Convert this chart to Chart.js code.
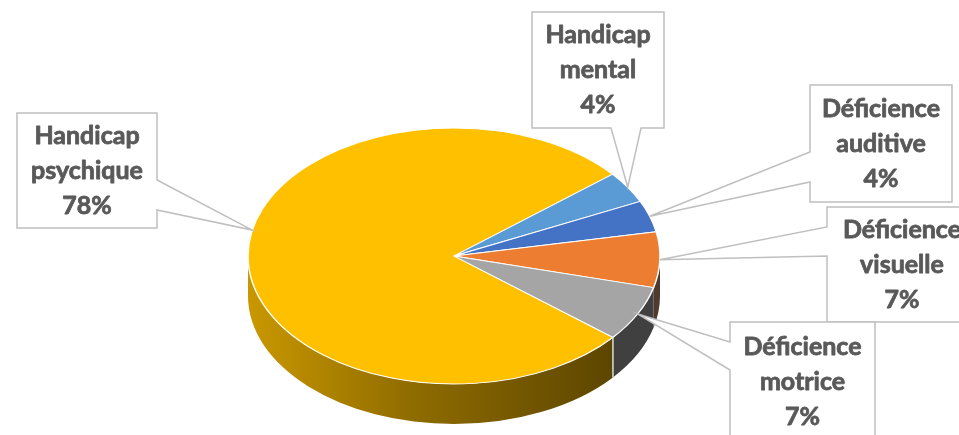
<!DOCTYPE html>
<html><head><meta charset="utf-8">
<script src="https://cdn.jsdelivr.net/npm/chart.js@4.4.1/dist/chart.umd.min.js"></script>
<style>html,body{margin:0;padding:0;background:#fff;}#wrap{position:relative;width:959px;height:435px;overflow:hidden;}</style>
</head><body><div id="wrap"><canvas id="c"></canvas></div>
<script>
// ---- data ----
const categories = ['Handicap psychique','Handicap mental','Déficience auditive','Déficience visuelle','Déficience motrice'];
const labelLines = [['Handicap','psychique'],['Handicap','mental'],['Déficience','auditive'],['Déficience','visuelle'],['Déficience','motrice']];
const values = [78, 4, 4, 7, 7];
const colors = ['#FFC000','#5B9BD5','#4472C4','#ED7D31','#A5A5A5'];
const sideColors = [null,'#2F5F8F','#2A4A85','#4F3A2C','#404040'];

// ---- layout ----
const PIE = {cx:454, cy:256, rx:206, ry:128, depth:40};
const BOXES = [
  {x:17, y:113, w:140, h:115, edge:'right', a:180, b:210, tipShift:11.8},
  {x:532, y:12, w:132, h:116, edge:'bottom', a:611, b:641, tipShift:0},
  {x:810, y:85, w:142, h:117, edge:'left', a:152, b:182, tipShift:0},
  {x:827, y:207, w:150, h:115, edge:'left', a:227, b:256, tipShift:0},
  {x:730, y:322, w:145, h:120, edge:'left', a:342, b:370, tipShift:0}
];
const FONT = 'bold 25px Lato, "Open Sans", sans-serif';
const LINE_H = 35;

function proj(t, dz){
  return [PIE.cx + PIE.rx*Math.cos(t), PIE.cy + PIE.ry*Math.sin(t) + (dz||0)];
}

const pie3d = {
  id:'pie3d',
  beforeDatasetsDraw(chart){
    const ctx = chart.ctx;
    const meta = chart.getDatasetMeta(0);
    const el0 = meta.data[0];
    const R0 = el0.outerRadius, x0 = el0.x, y0 = el0.y;
    const grad = ctx.createLinearGradient(PIE.cx-PIE.rx,0,PIE.cx+PIE.rx*0.78,0);
    grad.addColorStop(0,'#C99700');
    grad.addColorStop(0.45,'#8F6C00');
    grad.addColorStop(1,'#5C4500');
    const edges = [];
    meta.data.forEach((el,i)=>{
      const s = el.startAngle, e = el.endAngle;
      for(let k=-1;k<=2;k++){
        const lo = Math.max(s, 2*Math.PI*k), hi = Math.min(e, 2*Math.PI*k + Math.PI);
        if(hi>lo){
          const a = lo - 2*Math.PI*k, b = hi - 2*Math.PI*k;
          ctx.save();
          ctx.beginPath();
          ctx.ellipse(PIE.cx,PIE.cy,PIE.rx,PIE.ry,0,a,b,false);
          ctx.ellipse(PIE.cx,PIE.cy+PIE.depth,PIE.rx,PIE.ry,0,b,a,true);
          ctx.closePath();
          ctx.fillStyle = i===0 ? grad : sideColors[i];
          ctx.fill();
          ctx.restore();
          if(a>0.3 && a<Math.PI-0.001) edges.push(a);
        }
      }
    });
    ctx.save();
    ctx.strokeStyle='rgba(235,235,235,0.9)';
    ctx.lineWidth=1.5;
    edges.forEach(t=>{
      const p=proj(t,0), q=proj(t,PIE.depth);
      ctx.beginPath();ctx.moveTo(p[0],p[1]);ctx.lineTo(q[0],q[1]);ctx.stroke();
    });
    ctx.restore();
    ctx.save();
    ctx.translate(PIE.cx, PIE.cy);
    ctx.scale(PIE.rx/R0, PIE.ry/R0);
    ctx.translate(-x0, -y0);
  },
  afterDatasetsDraw(chart){
    chart.ctx.restore();
  },
  afterDraw(chart){
    const ctx = chart.ctx;
    const meta = chart.getDatasetMeta(0);
    const total = values.reduce((a,b)=>a+b,0);
    meta.data.forEach((el,i)=>{
      const B = BOXES[i];
      const mid = (el.startAngle+el.endAngle)/2 + B.tipShift*Math.PI/180;
      const tip = proj(mid, 0);
      const L=B.x, T=B.y, Rr=B.x+B.w, Bt=B.y+B.h;
      ctx.save();
      ctx.beginPath();
      if(B.edge==='left'){
        ctx.moveTo(L,T);ctx.lineTo(Rr,T);ctx.lineTo(Rr,Bt);ctx.lineTo(L,Bt);
        ctx.lineTo(L,B.b);ctx.lineTo(tip[0],tip[1]);ctx.lineTo(L,B.a);
      } else if(B.edge==='right'){
        ctx.moveTo(L,T);ctx.lineTo(Rr,T);ctx.lineTo(Rr,B.a);ctx.lineTo(tip[0],tip[1]);
        ctx.lineTo(Rr,B.b);ctx.lineTo(Rr,Bt);ctx.lineTo(L,Bt);
      } else {
        ctx.moveTo(L,T);ctx.lineTo(Rr,T);ctx.lineTo(Rr,Bt);ctx.lineTo(B.b,Bt);
        ctx.lineTo(tip[0],tip[1]);ctx.lineTo(B.a,Bt);ctx.lineTo(L,Bt);
      }
      ctx.closePath();
      ctx.fillStyle='#FFFFFF';
      ctx.fill();
      ctx.strokeStyle='#BFBFBF';
      ctx.lineWidth=1.5;
      ctx.stroke();
      const lines = labelLines[i].concat([Math.round(values[i]/total*100)+'%']);
      ctx.fillStyle='#595959';
      ctx.strokeStyle='#595959';
      ctx.lineWidth=0.8;
      ctx.lineJoin='round';
      ctx.font=FONT;
      ctx.textAlign='center';
      ctx.textBaseline='middle';
      const cxT = L+B.w/2, cyT = T+B.h/2;
      lines.forEach((s,j)=>{
        const yy = cyT + (j-(lines.length-1)/2)*LINE_H;
        ctx.fillText(s, cxT, yy);
        ctx.strokeText(s, cxT, yy);
      });
      ctx.restore();
    });
  }
};

new Chart(document.getElementById('c'), {
  type:'pie',
  data:{
    labels:categories,
    datasets:[{
      data:values,
      backgroundColor:colors,
      borderColor:'#FFFFFF',
      borderWidth:1.5,
      hoverOffset:0,
      clip:false
    }]
  },
  options:{
    responsive:true,
    maintainAspectRatio:false,
    animation:false,
    rotation:129.5,
    layout:{padding:{top:10,bottom:10,left:10,right:10}},
    events:[],
    plugins:{legend:{display:false},tooltip:{enabled:false}}
  },
  plugins:[pie3d]
});
</script></body></html>
